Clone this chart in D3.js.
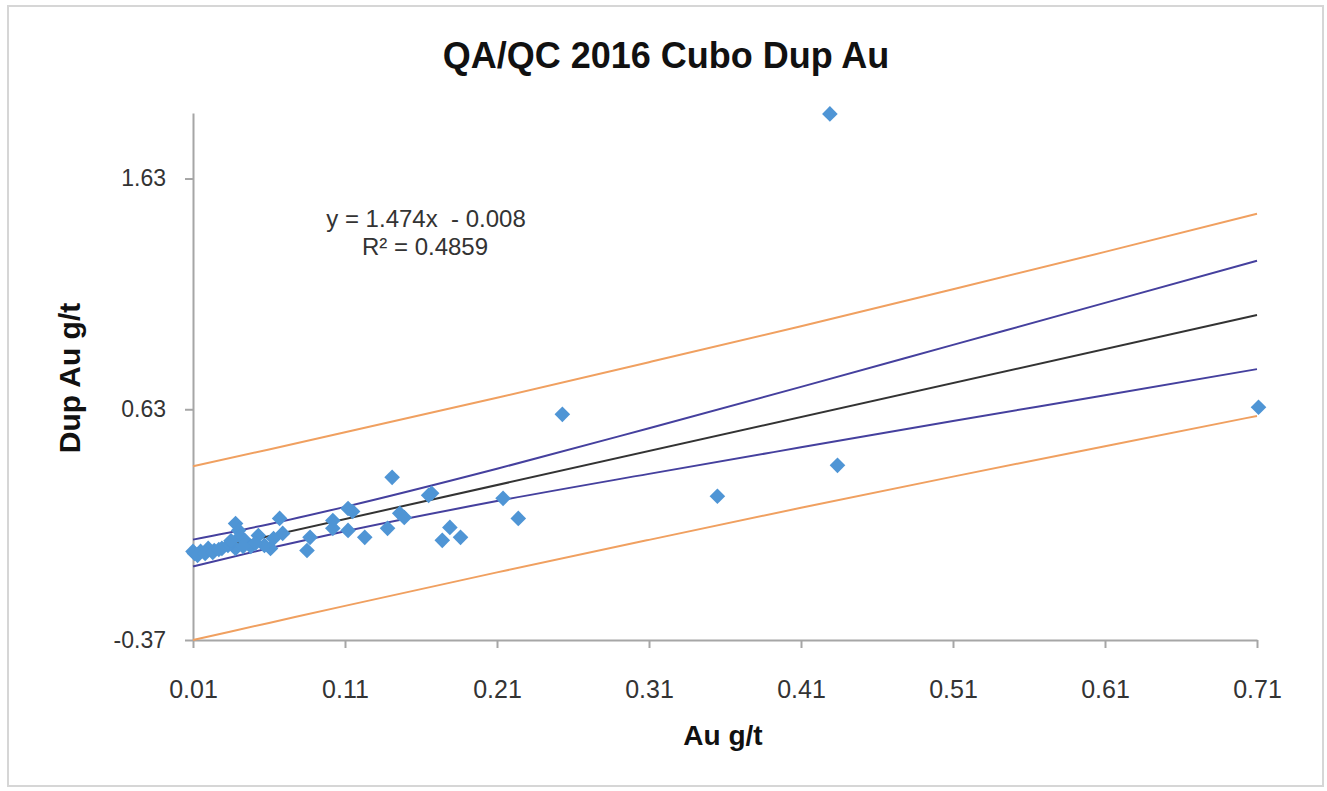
<!DOCTYPE html>
<html>
<head>
<meta charset="utf-8">
<script src="https://cdn.jsdelivr.net/npm/d3@7"></script>
<style>
  body { margin: 0; background: #fff; }
  svg { display: block; }
</style>
</head>
<body>
<div class="chart"></div>
<script>
    // Data

    var xTicks = [0.01, 0.11, 0.21, 0.31, 0.41, 0.51, 0.61, 0.71];
    var yTicks = [-0.37, 0.63, 1.63];
    var slope = 1.474;
    var intercept = -0.008;
    var rSquared = 0.4859;

    // Au g/t vs Dup Au g/t
    var auValues = [0.429, 0.711, 0.253, 0.434, 0.355, 0.214, 0.224, 0.141, 0.167, 0.165,
                    0.146, 0.149, 0.138, 0.123, 0.179, 0.174, 0.186, 0.112, 0.115, 0.102,
                    0.102, 0.112, 0.087, 0.085, 0.067, 0.069, 0.063, 0.061, 0.057, 0.038,
                    0.040, 0.041, 0.044, 0.053, 0.048, 0.038, 0.033, 0.029, 0.024, 0.020,
                    0.015, 0.011, 0.010, 0.013, 0.018, 0.023, 0.043, 0.051, 0.027, 0.035];
    var dupValues = [1.910, 0.639, 0.608, 0.387, 0.253, 0.244, 0.157, 0.335, 0.266, 0.257,
                     0.179, 0.161, 0.114, 0.075, 0.118, 0.062, 0.075, 0.200, 0.187, 0.148,
                     0.114, 0.105, 0.075, 0.018, 0.157, 0.092, 0.070, 0.027, 0.040, 0.135,
                     0.105, 0.079, 0.062, 0.083, 0.036, 0.027, 0.040, 0.027, 0.018, 0.027,
                     0.014, 0.005, 0.014, -0.003, 0.005, 0.010, 0.036, 0.049, 0.022, 0.060];

    // confidence band (blue) and prediction band (orange)
    var bandX = [0.01, 0.06, 0.11, 0.21, 0.31, 0.41, 0.51, 0.61, 0.71];
    var ciUpper = [0.065, 0.132, 0.207, 0.372, 0.548, 0.727, 0.909, 1.091, 1.274];
    var ciLower = [-0.051, 0.028, 0.101, 0.232, 0.350, 0.465, 0.579, 0.691, 0.804];
    var piUpper = [0.383, 0.456, 0.530, 0.680, 0.834, 0.990, 1.150, 1.312, 1.477];
    var piLower = [-0.370, -0.296, -0.222, -0.077, 0.064, 0.203, 0.338, 0.470, 0.601];

    (function () {
        var w = 1327;
        var h = 791;
        var plotLeft = 193;
        var plotRight = 1257;
        var plotTop = 113;
        var plotBottom = 640;

        var svg = d3.select('.chart')
            .append('svg')
                .attr('width', w)
                .attr('height', h);

        svg.append('rect')
            .attr('x', 8).attr('y', 6)
            .attr('width', 1315).attr('height', 780)
            .attr('fill', '#fff')
            .attr('stroke', '#d6d6d6')
            .attr('stroke-width', 2);

        var x = d3.scaleLinear().domain([0.01, 0.71]).range([plotLeft, plotRight]);
        var y = d3.scaleLinear().domain([-0.37, 1.914]).range([plotBottom, plotTop]);

        // plain hyphen for negatives, like the original
        var fmt = function (d) { return d.toFixed(2); };

        // Axes
        var xAxis = svg.append('g')
            .attr('transform', 'translate(0,' + plotBottom + ')')
            .call(d3.axisBottom(x).tickValues(xTicks).tickSize(8).tickSizeOuter(0).tickFormat(fmt));
        var yAxis = svg.append('g')
            .attr('transform', 'translate(' + plotLeft + ',0)')
            .call(d3.axisLeft(y).tickValues(yTicks).tickSize(8).tickSizeOuter(0).tickFormat(fmt));

        [xAxis, yAxis].forEach(function (g) {
            g.select('.domain').attr('stroke', '#a6a6a6').attr('stroke-width', 2);
            g.selectAll('.tick line').attr('stroke', '#a6a6a6').attr('stroke-width', 2);
            g.selectAll('.tick text').attr('fill', '#333');
        });
        xAxis.selectAll('.tick text')
            .attr('font-family', '"Liberation Sans", Arial, sans-serif')
            .attr('font-size', 25)
            .attr('y', 58)
            .attr('dy', 0);
        yAxis.selectAll('.tick text')
            .attr('font-family', '"Liberation Sans", Arial, sans-serif')
            .attr('font-size', 23)
            .attr('x', -27);

        // Bands and trend line
        var line = d3.line()
            .x(function (d) { return x(d[0]); })
            .y(function (d) { return y(d[1]); })
            .curve(d3.curveMonotoneX);

        var bands = [
            [piUpper, '#f0a060'],
            [piLower, '#f0a060'],
            [ciUpper, '#45409e'],
            [ciLower, '#45409e']
        ];
        bands.forEach(function (b) {
            svg.append('path')
                .datum(bandX.map(function (v, i) { return [v, b[0][i]]; }))
                .attr('d', line)
                .attr('fill', 'none')
                .attr('stroke', b[1])
                .attr('stroke-width', 2);
        });

        svg.append('path')
            .datum(x.domain().map(function (v) { return [v, slope * v + intercept]; }))
            .attr('d', line)
            .attr('fill', 'none')
            .attr('stroke', '#333')
            .attr('stroke-width', 2);

        // Points
        svg.selectAll('path.pt')
            .data(auValues.map(function (v, i) { return [v, dupValues[i]]; }))
            .enter()
            .append('path')
                .attr('class', 'pt')
                .attr('d', d3.symbol(d3.symbolSquare, 122))
                .attr('transform', function (d) {
                    return 'translate(' + x(d[0]) + ',' + y(d[1]) + ') rotate(45)';
                })
                .attr('fill', '#4f95d5');

        // Texts
        svg.append('text')
            .text('QA/QC 2016 Cubo Dup Au')
            .attr('x', 666).attr('y', 68)
            .attr('text-anchor', 'middle')
            .attr('font-family', '"Liberation Sans", Arial, sans-serif')
            .attr('font-weight', 'bold')
            .attr('font-size', 36)
            .attr('fill', '#111');

        svg.append('text')
            .text('Dup Au g/t')
            .attr('transform', 'translate(80,378) rotate(-90)')
            .attr('text-anchor', 'middle')
            .attr('font-family', '"Liberation Sans", Arial, sans-serif')
            .attr('font-weight', 'bold')
            .attr('font-size', 30)
            .attr('fill', '#111');

        svg.append('text')
            .text('Au g/t')
            .attr('x', 723).attr('y', 745)
            .attr('text-anchor', 'middle')
            .attr('font-family', '"Liberation Sans", Arial, sans-serif')
            .attr('font-weight', 'bold')
            .attr('font-size', 28)
            .attr('fill', '#111');

        svg.append('text')
            .text('y = ' + slope + 'x  - ' + Math.abs(intercept).toFixed(3))
            .attr('x', 426).attr('y', 227)
            .attr('text-anchor', 'middle')
            .attr('font-family', '"Liberation Sans", Arial, sans-serif')
            .attr('font-size', 24)
            .style('white-space', 'pre')
            .attr('fill', '#333');

        svg.append('text')
            .text('R² = ' + rSquared)
            .attr('x', 425).attr('y', 255)
            .attr('text-anchor', 'middle')
            .attr('font-family', '"Liberation Sans", Arial, sans-serif')
            .attr('font-size', 24)
            .attr('fill', '#333');
    })();
</script>
</body>
</html>
